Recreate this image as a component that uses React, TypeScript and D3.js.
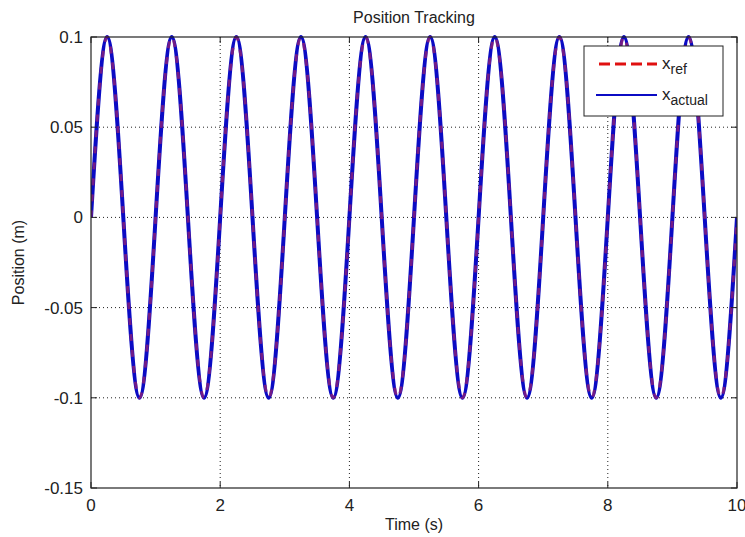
import React from "react";
import * as d3 from "d3";

const times = [0,0.25,0.5,0.75,1,1.25,1.5,1.75,2,2.25,2.5,2.75,3,3.25,3.5,3.75,4,4.25,4.5,4.75,5,5.25,5.5,5.75,6,6.25,6.5,6.75,7,7.25,7.5,7.75,8,8.25,8.5,8.75,9,9.25,9.5,9.75,10];
const xRef = [0,0.1,0,-0.1,0,0.1,0,-0.1,0,0.1,0,-0.1,0,0.1,0,-0.1,0,0.1,0,-0.1,0,0.1,0,-0.1,0,0.1,0,-0.1,0,0.1,0,-0.1,0,0.1,0,-0.1,0,0.1,0,-0.1,0];
const xActual = [0,0.1,0,-0.1,0,0.1,0,-0.1,0,0.1,0,-0.1,0,0.1,0,-0.1,0,0.1,0,-0.1,0,0.1,0,-0.1,0,0.1,0,-0.1,0,0.1,0,-0.1,0,0.1,0,-0.1,0,0.1,0,-0.1,0];
const xTicks = [0, 2, 4, 6, 8, 10];
const yTicks = [-0.15, -0.1, -0.05, 0, 0.05, 0.1];

const W = 745, H = 537;
const L = 91, R = 737, T = 37, B = 488;
const font = "'Liberation Sans', Arial, sans-serif";

export default function App() {
  const x = d3.scaleLinear().domain([0, 10]).range([L, R]);
  const y = d3.scaleLinear().domain([-0.15, 0.1]).range([B, T]);
  const line = d3.line<number>().x((_, i) => x(times[i])).y((d) => y(d)).curve(d3.curveNatural);
  const fmt = (v: number) => (Math.abs(v) < 1e-9 ? "0" : String(+v.toFixed(2)));
  return (
    <svg width={W} height={H} style={{ position: "absolute", left: 0, top: 0, background: "#fff" }} fontFamily={font}>
      <rect x={0} y={0} width={W} height={H} fill="#fff" />
      {xTicks.filter((t) => t > 0 && t < 10).map((t) => (
        <line key={"gx" + t} x1={x(t)} x2={x(t)} y1={T} y2={B} stroke="#222" strokeWidth={1} strokeDasharray="1,3" />
      ))}
      {yTicks.filter((t) => t > -0.15 && t < 0.1).map((t) => (
        <line key={"gy" + t} x1={L} x2={R} y1={y(t)} y2={y(t)} stroke="#222" strokeWidth={1} strokeDasharray="1,3" />
      ))}
      <defs>
        <clipPath id="clip"><rect x={L} y={T - 3} width={R - L} height={B - T + 6} /></clipPath>
      </defs>
      <g clipPath="url(#clip)">
        <path d={line(xActual) || ""} fill="none" stroke="#0b0bc4" strokeWidth={4} />
        <path d={line(xRef) || ""} fill="none" stroke="#8c1f78" strokeWidth={3} strokeDasharray="7,9" opacity={0.8} />
      </g>
      <rect x={L} y={T} width={R - L} height={B - T} fill="none" stroke="#222" strokeWidth={1.2} />
      {xTicks.map((t) => (
        <g key={"tx" + t}>
          <line x1={x(t)} x2={x(t)} y1={B} y2={B - 6} stroke="#222" />
          <line x1={x(t)} x2={x(t)} y1={T} y2={T + 6} stroke="#222" />
          <text x={x(t)} y={B + 23} textAnchor="middle" fontSize={17} fill="#222">{fmt(t)}</text>
        </g>
      ))}
      {yTicks.map((t) => (
        <g key={"ty" + t}>
          <line x1={L} x2={L + 6} y1={y(t)} y2={y(t)} stroke="#222" />
          <line x1={R} x2={R - 6} y1={y(t)} y2={y(t)} stroke="#222" />
          <text x={L - 8} y={y(t) + 6} textAnchor="end" fontSize={17} fill="#222">{fmt(t)}</text>
        </g>
      ))}
      <text x={(L + R) / 2} y={23} textAnchor="middle" fontSize={16} fill="#222">Position Tracking</text>
      <text x={(L + R) / 2} y={530} textAnchor="middle" fontSize={16} fill="#222">Time (s)</text>
      <text transform={`translate(24,${(T + B) / 2}) rotate(-90)`} textAnchor="middle" fontSize={16} fill="#222">Position (m)</text>
      <rect x={584} y={46} width={139} height={70} fill="#fff" stroke="#222" strokeWidth={1} />
      <line x1={599} x2={657} y1={64} y2={64} stroke="#e01010" strokeWidth={3} strokeDasharray="11,5" />
      <line x1={596} x2={657} y1={95} y2={95} stroke="#0b0bc4" strokeWidth={2} />
      <text x={662} y={69} fontSize={17} fill="#222">x<tspan fontSize={14} dy={5}>ref</tspan></text>
      <text x={662} y={100} fontSize={17} fill="#222">x<tspan fontSize={14} dy={5}>actual</tspan></text>
    </svg>
  );
}
